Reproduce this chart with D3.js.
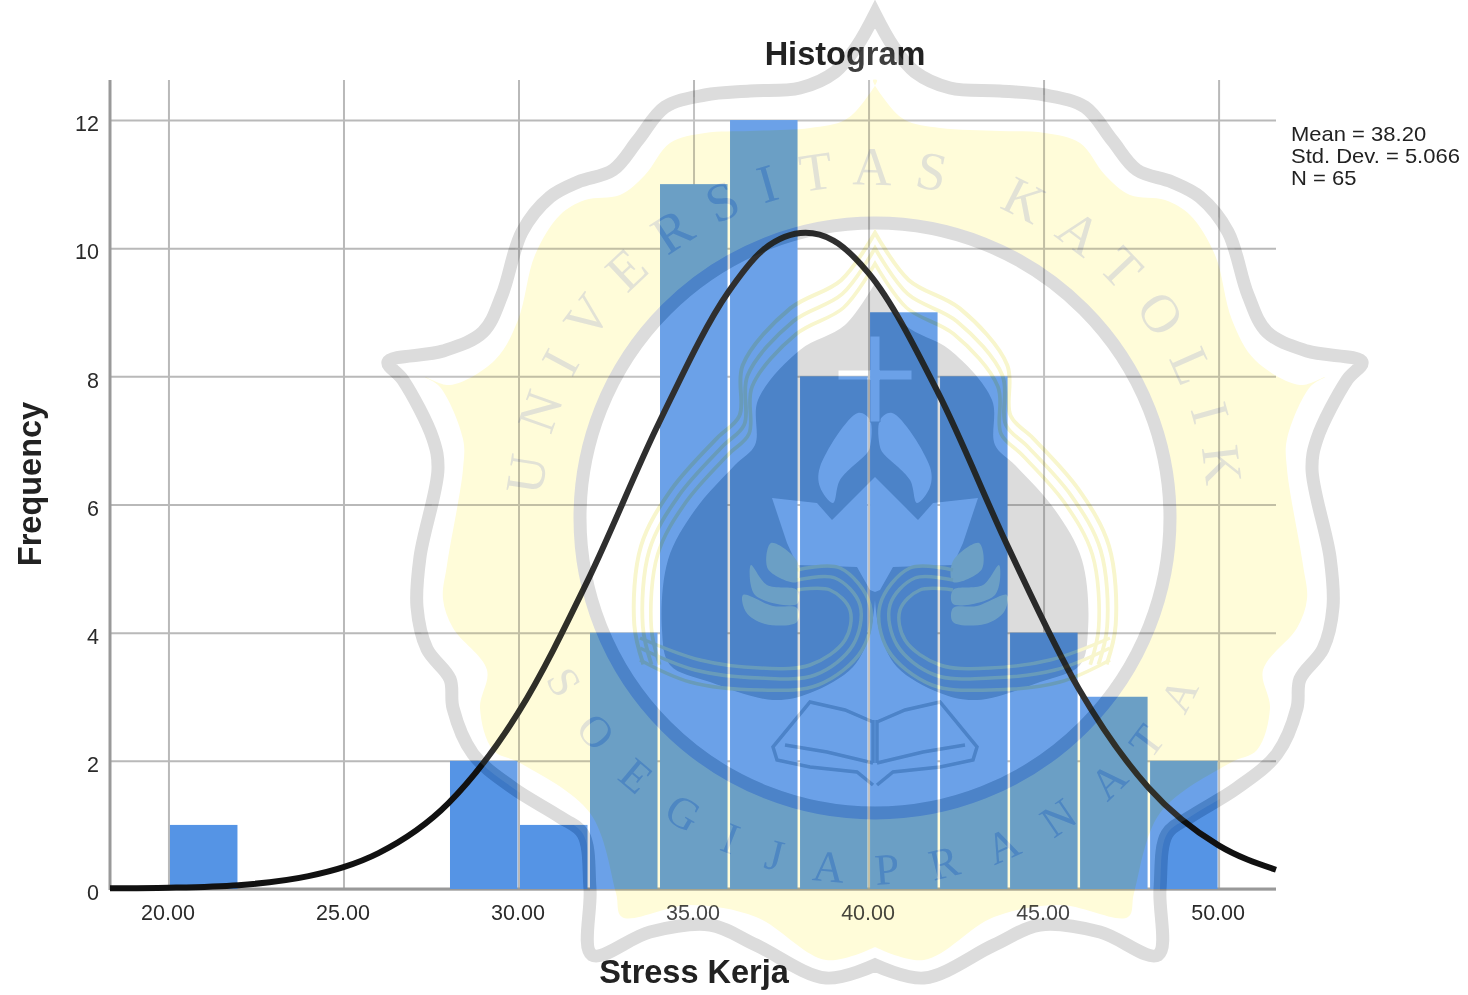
<!DOCTYPE html>
<html>
<head>
<meta charset="utf-8">
<title>Histogram</title>
<script src="https://d3js.org/d3.v7.min.js"></script>
<style>
  body { margin: 0; background: #fff; }
  text { font-family: "Liberation Sans", Arial, sans-serif; fill: #222; }
  .tick text { font-size: 21.5px; fill: #2a2a2a; }
  .tick line { stroke: #b9b9b9; stroke-width: 2; }
  .domain { display: none; }
  .axis-title { font-size: 32.5px; font-weight: bold; }
</style>
</head>
<body>
<script>
// histogram values
const binStarts = [20, 28, 30, 32, 34, 36, 38, 40, 42, 44, 46, 48];
const binCounts = [1, 2, 1, 4, 11, 12, 8, 9, 8, 4, 3, 2];
const binWidth = 2;

// normal curve
const curveX = [18.33, 20, 22, 24, 25, 26, 28, 30, 32, 34, 36, 37, 38.2, 39, 40, 42, 44, 46, 48, 50, 51.64];
const curveY = [0.01, 0.02, 0.06, 0.2, 0.34, 0.56, 1.34, 2.76, 4.84, 7.26, 9.32, 9.98, 10.24, 10.12, 9.61, 7.73, 5.32, 3.13, 1.58, 0.68, 0.3];

const xTicks = [20, 25, 30, 35, 40, 45, 50];
const yTicks = [0, 2, 4, 6, 8, 10, 12];
const statLines = ["Mean = 38.20", "Std. Dev. = 5.066", "N = 65"];

// watermark outlines, right half only, mirrored around midX
const midX = 875, midY = 518;
const ringHalf = [[875,14],[893,46],[915,72],[950,88],[1000,91],[1045,95],[1085,107],[1112,140],[1137,170],[1172,182],[1200,197],[1228,232],[1248,295],[1267,332],[1307,351],[1362,362],[1347,380],[1317,439],[1312,469],[1330,557],[1333,607],[1323,649],[1300,679],[1297,708],[1277,754],[1237,788],[1190,817],[1167,834],[1160,889],[1158,955],[1100,932],[1040,925],[994,945],[924,978],[875,965]];
const yellowHalf = [[873,80],[885,100],[905,120],[940,128],[1000,131],[1045,133],[1080,143],[1105,175],[1130,195],[1165,200],[1190,215],[1215,255],[1232,320],[1255,360],[1300,385],[1325,377],[1310,387],[1287,439],[1287,469],[1303,565],[1307,599],[1297,628],[1263,670],[1270,708],[1257,750],[1230,763],[1160,813],[1134,893],[1128,917],[1060,905],[994,917],[924,960],[875,947]];
const archHalf = [[875,283],[905,325],[950,350],[992,400],[995,445],[1015,465],[1055,510],[1082,560],[1088,630],[1080,665]];
const domeBottom = [[1040,682],[977,700],[940,693],[897,667],[880,633],[875,600]];
const lotusHalf = [[875,477],[918,520],[933,503],[978,498],[963,543],[953,565],[893,567],[880,590],[875,592]];
const petal = [[892,413],[930,467],[930,487],[917,503],[910,480],[883,453],[880,447],[880,420]];
const wings = [
  [[979,543],[953,561],[953,582],[982,569]],
  [[999,565],[983,585],[953,590],[953,604],[995,595]],
  [[1007,595],[977,606],[953,608],[953,622],[985,624],[1004,612]]
];
const swirls = [
  [[953,590],[920,590],[900,610],[905,640],[940,665],[990,668],[1050,660],[1110,638]],
  [[953,580],[915,578],[890,605],[897,645],[935,675],[990,678],[1055,670],[1110,648]],
  [[953,570],[910,568],[880,605],[888,650],[932,685],[990,690],[1060,682],[1110,660]]
];
const bookOuter = [[877,722],[905,710],[940,702],[977,747],[973,760],[940,767],[893,772],[877,785]];
const bookInner = [[877,763],[923,752],[965,745]];
const bookSpine = [[877,720],[877,763]];
const crossPath = "M870,336h10v34h32v10h-32v42h-10v-42h-32v-10h32z";
const topLetters = "UNIVERSITAS KATOLIK";
const lowLetters = "SOEGIJAPRANATA";

const width = 1468, height = 995;
const svg = d3.select("body").append("svg").attr("width", width).attr("height", height);

const x = d3.scaleLinear().domain([18.33, 51.64]).range([110, 1276]);
const y = d3.scaleLinear().domain([0, 12.625]).range([889, 80]);

svg.append("g")
  .attr("transform", "translate(0,889)")
  .call(d3.axisBottom(x).tickValues(xTicks).tickFormat(d3.format(".2f")).tickSize(-809).tickPadding(16))
  .selectAll("text").attr("dx", -1);

svg.append("g")
  .attr("transform", "translate(110,0)")
  .call(d3.axisLeft(y).tickValues(yTicks).tickSize(-1166).tickPadding(11))
  .selectAll("text").attr("dy", "0.5em").attr("font-size", 22);

// axis lines
svg.append("line").attr("x1", 110).attr("x2", 110).attr("y1", y.range()[1]).attr("y2", 890).attr("stroke", "#999").attr("stroke-width", 3);
svg.append("line").attr("x1", 110).attr("x2", 1276).attr("y1", 889).attr("y2", 889).attr("stroke", "#999").attr("stroke-width", 3);

svg.selectAll("rect.bar")
  .data(binStarts)
  .join("rect")
  .attr("class", "bar")
  .attr("x", d => x(d) + 1.5)
  .attr("width", d => x(d + binWidth) - x(d) - 2.5)
  .attr("y", (d, i) => y(binCounts[i]))
  .attr("height", (d, i) => y(0) - y(binCounts[i]))
  .attr("fill", "#5594e5");

const normalLine = d3.line().x(d => x(d[0])).y(d => y(d[1])).curve(d3.curveMonotoneX);
svg.append("path")
  .datum(curveX.map((v, i) => [v, curveY[i]]))
  .attr("d", normalLine)
  .attr("fill", "none")
  .attr("stroke", "#111")
  .attr("stroke-width", 6);

svg.append("text").attr("class", "axis-title").attr("x", 845).attr("y", 65).attr("text-anchor", "middle").text("Histogram");
svg.append("text").attr("class", "axis-title").attr("x", 694).attr("y", 983).attr("text-anchor", "middle").text("Stress Kerja");
svg.append("text").attr("class", "axis-title").attr("text-anchor", "middle")
  .attr("transform", "translate(41,484) rotate(-90)").text("Frequency");

// the reference has these lines tight in leading
svg.append("g")
  .attr("transform", "translate(1291,0) scale(1.1,1)")
  .selectAll("text")
  .data(statLines)
  .join("text")
  .attr("y", (d, i) => 141 + i * 22.2)
  .attr("font-size", 20)
  .text(d => d);

// ---- watermark ----
const flip = pts => pts.map(p => [2 * midX - p[0], p[1]]);
const mirror = half => half.concat(flip(half).reverse());
const mirrorOpen = half => flip(half).reverse().concat(half);
const closed = d3.line().curve(d3.curveCatmullRomClosed.alpha(0.5));
const open = d3.line().curve(d3.curveCatmullRom.alpha(0.5));
const straight = d3.line().curve(d3.curveLinearClosed);
const plain = d3.line();

const defs = svg.append("defs");
const polar = (r, deg) => [midX + r * Math.sin(deg * Math.PI / 180), midY - r * Math.cos(deg * Math.PI / 180)];
const topA = polar(333, -100), topB = polar(333, 100);
defs.append("path").attr("id", "arcTop").attr("d", `M${topA} A333,333 0 1 1 ${topB}`);
defs.append("path").attr("id", "arcLow").attr("d", `M${midX - 366},${midY} A366,366 0 0 0 ${midX + 366},${midY}`);
defs.append("clipPath").attr("id", "onBars")
  .selectAll("rect")
  .data(binStarts)
  .join("rect")
  .attr("x", d => x(d) + 1.5)
  .attr("width", d => x(d + binWidth) - x(d) - 2.5)
  .attr("y", (d, i) => y(binCounts[i]))
  .attr("height", (d, i) => y(0) - y(binCounts[i]));

// veil that lightens what lies under the logo
svg.append("path").attr("d", closed(mirror(ringHalf))).attr("fill", "#fff").attr("fill-opacity", 0.13);

function drawMark(mark, dark, pale, yellow, letterFill) {
  mark.append("path").attr("d", closed(mirror(ringHalf))).attr("fill", "#fff").attr("stroke", dark).attr("stroke-width", 13);
  mark.append("path").attr("d", closed(mirror(yellowHalf))).attr("fill", yellow);
  mark.append("circle").attr("cx", midX).attr("cy", midY).attr("r", 295).attr("fill", "#fff").attr("stroke", dark).attr("stroke-width", 13);

  [1.13, 1.09, 1.05].forEach(k => {
    mark.append("path")
      .attr("d", open(mirrorOpen(archHalf)))
      .attr("transform", `translate(${midX},670) scale(${k}) translate(${-midX},-670)`)
      .attr("fill", "none").attr("stroke", pale).attr("stroke-width", 3.5);
  });
  mark.append("path").attr("d", closed(mirror(archHalf.concat(domeBottom)))).attr("fill", dark);
  mark.append("path").attr("d", straight(mirror(lotusHalf))).attr("fill", "#fff");
  [petal, flip(petal)].forEach(p => mark.append("path").attr("d", closed(p)).attr("fill", "#fff"));
  // the yellow tint of the wings only shows on the bars
  wings.concat(wings.map(flip)).forEach(w => mark.append("path").attr("d", closed(w)).attr("fill", yellow));
  swirls.concat(swirls.map(flip)).forEach(s => {
    mark.append("path").attr("d", open(s)).attr("fill", "none").attr("stroke", pale).attr("stroke-width", 3.5);
  });
  [bookOuter, bookInner, bookSpine].forEach(b => {
    [b, flip(b)].forEach(p => {
      mark.append("path").attr("d", plain(p)).attr("fill", "none").attr("stroke", dark).attr("stroke-width", 3.5);
    });
  });
  mark.append("path").attr("d", crossPath).attr("fill", "#fff").attr("stroke", dark).attr("stroke-width", 1);

  [["#arcTop", topLetters, 54, 22, "50.5%"], ["#arcLow", lowLetters, 44, 33, "51%"]].forEach(l => {
    mark.append("text")
      .attr("font-size", l[2])
      .attr("letter-spacing", l[3])
      .style("font-family", "'Liberation Serif', serif")
      .style("fill", letterFill)
      .append("textPath")
      .attr("href", l[0])
      .attr("startOffset", l[4])
      .attr("text-anchor", "middle")
      .text(l[1]);
  });
}

drawMark(svg.append("g").style("mix-blend-mode", "multiply"), "#dcdcdc", "#f8f6cd", "#fffcd9", "#e2e2d6");
// second pass on the bars only, the logo reads bluer there than on white
drawMark(svg.append("g").style("mix-blend-mode", "multiply").attr("clip-path", "url(#onBars)"), "#d1f0ff", "#ffffff", "#ffffff", "#d1f0ff");
</script>
</body>
</html>
